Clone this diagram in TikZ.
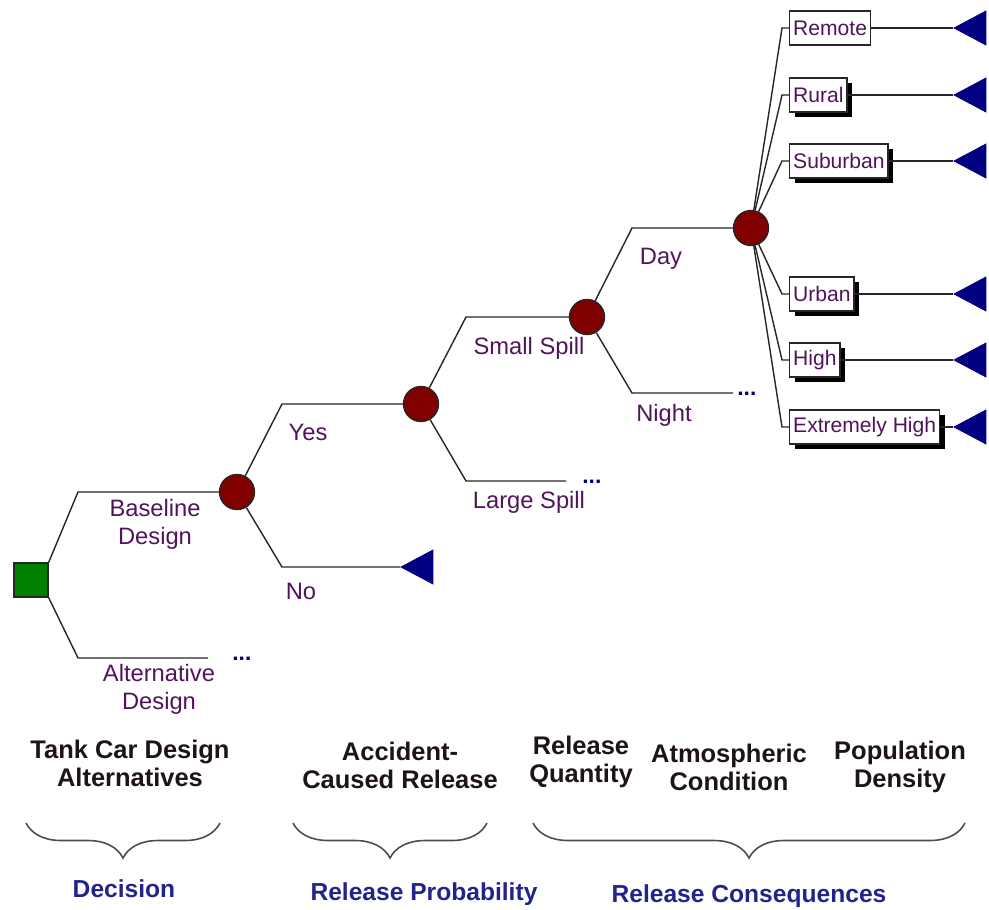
\documentclass[tikz,border=0pt]{standalone}
\usepackage{fontspec}
\setmainfont{Liberation Sans}
\usetikzlibrary{shapes.geometric,shadows,decorations.pathreplacing}

\definecolor{decgreen}{RGB}{0,128,0}
\definecolor{chancered}{RGB}{128,0,0}
\definecolor{endblue}{RGB}{0,0,128}
\definecolor{branchtxt}{RGB}{80,20,90}
\definecolor{headtxt}{RGB}{30,20,20}
\definecolor{grouptxt}{RGB}{35,35,140}

\begin{document}
\begin{tikzpicture}[x=0.02cm,y=-0.02cm,
    branch/.style={draw=black!85,line width=0.8pt},
    decnode/.style={rectangle,draw=black!85,fill=decgreen,minimum size=0.68cm,inner sep=0pt,line width=0.8pt},
    chancenode/.style={circle,draw=black!85,fill=chancered,minimum size=0.7cm,inner sep=0pt,line width=0.8pt},
    endnode/.style={isosceles triangle,isosceles triangle stretches,shape border rotate=180,fill=endblue,draw=endblue,minimum width=0.68cm,minimum height=0.64cm,inner sep=0pt,anchor=apex},
    boxnode/.style={draw=black!85,fill=white,anchor=west,minimum height=0.68cm,inner xsep=0.07cm,inner ysep=0pt,font=\fontsize{12}{14}\selectfont,text=branchtxt,line width=0.8pt},
    shadowbox/.style={boxnode,drop shadow={shadow xshift=0.1cm,shadow yshift=-0.1cm,fill=black,opacity=1}},
    brlabel/.style={text=branchtxt,font=\fontsize{13.5}{16}\selectfont,inner sep=0pt},
    morenode/.style={text=endblue,font=\fontsize{13}{14}\selectfont\bfseries,inner sep=0pt,anchor=base west},
    headlbl/.style={text=headtxt,align=center,font=\fontsize{14.5}{16}\selectfont\bfseries,inner sep=0pt},
    grouplbl/.style={text=grouptxt,font=\fontsize{14}{16}\selectfont\bfseries,inner sep=0pt,anchor=base},
    groupbrace/.style={draw=black!70,line width=0.9pt,decorate,decoration={brace,mirror,amplitude=0.7cm}}]
  \useasboundingbox (0,0) rectangle (989,909);

  % tree nodes
  \node[decnode] (dec) at (31,580) {};
  \node[chancenode] (c1) at (237,492) {};
  \node[chancenode] (c2) at (421,404) {};
  \node[chancenode] (c3) at (587,317) {};
  \node[chancenode] (c4) at (751,228) {};
  \node[endnode] (t0) at (400,567) {};

  \coordinate (e1) at (208,658);
  \coordinate (e2) at (566,481);
  \coordinate (e3) at (733,393);
  \node[morenode] (m1) at (232,660) {...};
  \node[morenode] (m2) at (582,483) {...};
  \node[morenode] (m3) at (737,395) {...};

  \draw[branch] (dec.north east) -- (78,492) -- (c1);
  \draw[branch] (dec.south east) -- (78,658) -- (e1);
  \draw[branch] (c1) -- (282,404) -- (c2);
  \draw[branch] (c1) -- (282,567) -- (t0.apex);
  \draw[branch] (c2) -- (466,317) -- (c3);
  \draw[branch] (c2) -- (466,481) -- (e2);
  \draw[branch] (c3) -- (632,228) -- (c4);
  \draw[branch] (c3) -- (632,393) -- (e3);

  \node[brlabel,align=center] (l1) at (155,524) {Baseline\\Design};
  \node[brlabel,align=center] (l2) at (159,689) {Alternative\\Design};
  \node[brlabel,anchor=base] (l3) at (308,440) {Yes};
  \node[brlabel,anchor=base] (l4) at (301,599) {No};
  \node[brlabel,anchor=base] (l5) at (529,354) {Small Spill};
  \node[brlabel,anchor=base] (l6) at (529,508) {Large Spill};
  \node[brlabel,anchor=base] (l7) at (661,264) {Day};
  \node[brlabel,anchor=base] (l8) at (664,421) {Night};

  % population density
  \node[boxnode] (b1) at (789,28) {Remote};
  \node[shadowbox] (b2) at (789,95) {Rural};
  \node[shadowbox] (b3) at (789,161) {Suburban};
  \node[shadowbox] (b4) at (789,294) {Urban};
  \node[shadowbox] (b5) at (789,360) {High};
  \node[shadowbox] (b6) at (789,427) {Extremely High};
  \foreach \i/\y in {1/28,2/95,3/161,4/294,5/360,6/427}{
    \node[endnode] (t\i) at (953,\y) {};
    \draw[branch] (c4) -- (782,\y) -- (b\i.west);
    \draw[branch] (b\i.east) -- (t\i.apex);
  }

  % stages
  \node[headlbl] (h1) at (130,763) {Tank Car Design\\Alternatives};
  \node[headlbl] (h2) at (400,765) {Accident-\\Caused Release};
  \node[headlbl] (h3) at (581,762) {Release\\Quantity};
  \node[headlbl] (h4) at (729,767) {Atmospheric\\Condition};
  \node[headlbl] (h5) at (900,767) {Population\\Density};

  \draw[groupbrace] (26,823) -- (220,823);
  \draw[groupbrace] (293,823) -- (487,823);
  \draw[groupbrace] (533,823) -- (965,823);

  \node[grouplbl] (g1) at (124,897) {Decision};
  \node[grouplbl] (g2) at (424,900) {Release Probability};
  \node[grouplbl] (g3) at (749,902) {Release Consequences};
\end{tikzpicture}
\end{document}
